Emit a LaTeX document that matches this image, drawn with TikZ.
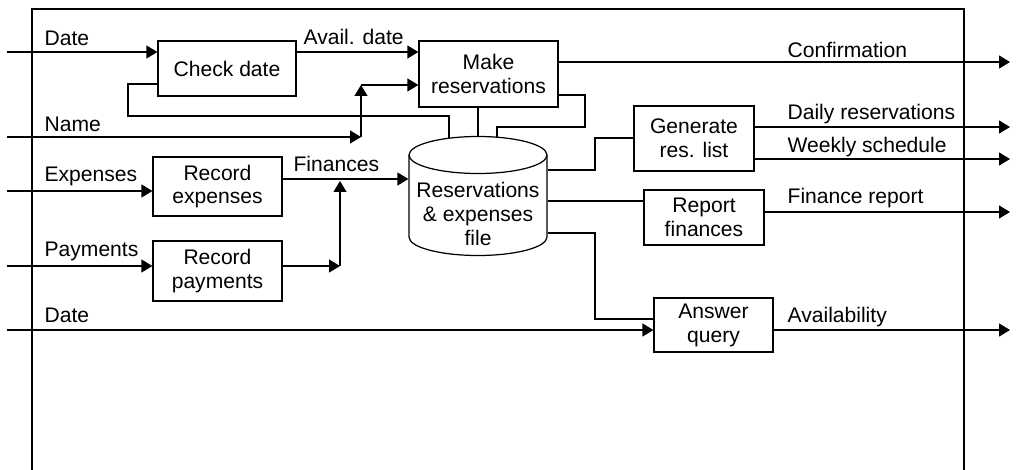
\documentclass[tikz,border=0pt]{standalone}
\usepackage{fontspec}
\setmainfont{Liberation Sans}
\usetikzlibrary{arrows.meta}

\begin{document}
\begin{tikzpicture}[x=0.02cm,y=-0.02cm,line width=0.7pt,
  font=\fontsize{12}{13.6}\selectfont,
  box/.style={draw,rectangle,align=center,inner sep=0pt},
  flow/.style={-{Triangle[length=0.22cm,width=0.26cm]}},
  lbl/.style={anchor=base west,inner sep=0pt}]
  \useasboundingbox (0,0) rectangle (1018,470);
  % frame of the system
  \draw (32,470) -- (32,9) -- (964,9) -- (964,470);
  % processes
  \node[box,minimum width=2.76cm,minimum height=1.10cm] (chk) at (227,68.5) {Check date};
  \node[box,minimum width=2.78cm,minimum height=1.32cm] (mk) at (488.5,74) {Make\\reservations};
  \node[box,minimum width=2.58cm,minimum height=1.18cm] (re) at (217.5,186.5) {Record\\expenses};
  \node[box,minimum width=2.58cm,minimum height=1.20cm] (rp) at (217.5,271) {Record\\payments};
  \node[box,minimum width=2.40cm,minimum height=1.30cm] (gen) at (694,138.5) {Generate\\res. list};
  \node[box,minimum width=2.40cm,minimum height=1.10cm] (rf) at (704,217.5) {Report\\finances};
  \node[box,minimum width=2.38cm,minimum height=1.08cm] (aq) at (713.5,325) {Answer\\query};
  % data store (drum drawn by hand)
  \node[align=center,inner sep=0pt,minimum width=2.76cm] (file) at (478,214)
    {Reservations\\\& expenses\\file};
  \draw (409,155) -- (409,237) arc[start angle=180,end angle=360,x radius=1.38cm,y radius=0.37cm] -- (547,155);
  \draw (478,155) ellipse[x radius=1.38cm,y radius=0.37cm];
  % free ends
  \coordinate (in1) at (7,52);
  \coordinate (in2) at (7,137);
  \coordinate (in3) at (7,191);
  \coordinate (in4) at (7,266);
  \coordinate (in5) at (7,330);
  \coordinate (nj) at (361,137);
  \coordinate (nk) at (361,85);
  \coordinate (pj) at (340,266);
  \coordinate (pk) at (340,181);
  % inputs
  \draw[flow] (in1) -- (chk.west |- in1);
  \draw[flow] (chk.east |- 0,52) -- (mk.west |- 0,52);
  \draw[flow] (in2) -- (nj);
  \draw[flow] (nj) -- (nk);
  \draw[flow] (nk) -- (mk.west |- nk);
  \draw[flow] (in3) -- (re.west |- in3);
  \draw[flow] (in4) -- (rp.west |- in4);
  \draw[flow] (rp.east |- pj) -- (pj);
  \draw[flow] (pj) -- (pk);
  \draw[flow] (re.east |- 0,179) -- (file.west |- 0,179);
  \draw[flow] (in5) -- (aq.west |- in5);
  % store links
  \draw (chk.west |- 0,84) -- (128,84) -- (128,116) -- (449,116) -- (449,138);
  \draw (file |- mk.south) -- (478,137);
  \draw (mk.east |- 0,95) -- (585,95) -- (585,127) -- (497,127) -- (497,137);
  \draw (file.east |- 0,170) -- (595,170) -- (595,138) -- (gen.west |- 0,138);
  \draw (file.east |- 0,201) -- (rf.west |- 0,201);
  \draw (file.east |- 0,233) -- (595,233) -- (595,319) -- (aq.west |- 0,319);
  % outputs
  \draw[flow] (mk.east |- 0,62) -- (1010,62);
  \draw[flow] (gen.east |- 0,127) -- (1010,127);
  \draw[flow] (gen.east |- 0,159) -- (1010,159);
  \draw[flow] (rf.east |- 0,212) -- (1010,212);
  \draw[flow] (aq.east |- 0,330) -- (1010,330);
  % flow names
  \node[lbl] (ldate) at (44,45) {Date};
  \node[lbl] (lavail) at (303,44) {Avail. date};
  \node[lbl] (lname) at (44,131) {Name};
  \node[lbl] (lexp) at (44,181) {Expenses};
  \node[lbl] (lpay) at (44,256) {Payments};
  \node[lbl] (lfin) at (293,171) {Finances};
  \node[lbl] (ldate2) at (44,322) {Date};
  \node[lbl] (lconf) at (787,57) {Confirmation};
  \node[lbl] (ldaily) at (787,119) {Daily reservations};
  \node[lbl] (lweek) at (787,152) {Weekly schedule};
  \node[lbl] (lrep) at (787,203) {Finance report};
  \node[lbl] (lavl) at (787,322) {Availability};
\end{tikzpicture}
\end{document}
